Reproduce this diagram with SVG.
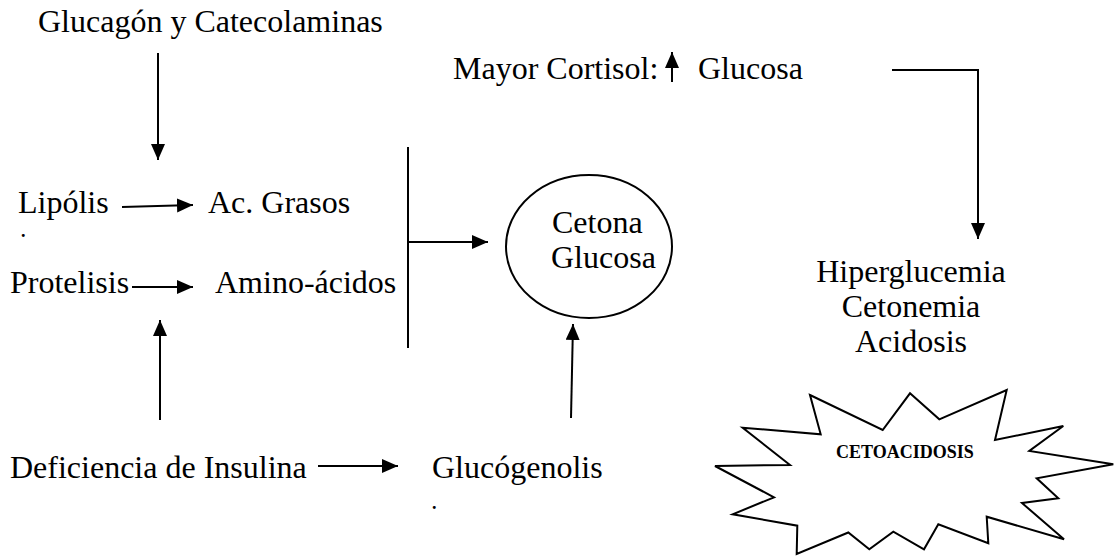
<svg xmlns="http://www.w3.org/2000/svg" width="1115" height="556" viewBox="0 0 1115 556">
<style>
  text { font-family: "Liberation Serif", "Times New Roman", serif; font-size: 32px; fill: #000; }
  .bold { font-weight: bold; font-size: 18px; }
  .dot { font-size: 18px; font-weight: bold; }
  .ln { stroke: #000; stroke-width: 2; fill: none; }
  .arr { stroke: #000; stroke-width: 2; fill: none; marker-end: url(#ah); }
</style>
<defs>
  <marker id="ah" markerUnits="userSpaceOnUse" markerWidth="18" markerHeight="16" refX="16" refY="7" orient="auto">
    <path d="M0,0 L16,7 L0,14 Z" fill="#000"/>
  </marker>
</defs>
<rect width="1115" height="556" fill="#fff"/>

<g id="connectors">
  <line class="arr" x1="158" y1="53" x2="158" y2="160"/>
  <line class="arr" x1="122" y1="207" x2="193" y2="205"/>
  <line class="arr" x1="132" y1="287" x2="193" y2="287"/>
  <line class="arr" x1="160" y1="420" x2="160" y2="320"/>
  <line class="ln" x1="408" y1="147" x2="408" y2="348"/>
  <line class="arr" x1="408" y1="242" x2="488" y2="242"/>
  <line class="arr" x1="571" y1="418" x2="573" y2="324"/>
  <line class="arr" x1="318" y1="466" x2="398" y2="466"/>
  <line class="arr" x1="672" y1="82" x2="672" y2="52"/>
  <polyline class="ln" points="892,70 978,70 978,224"/>
  <line class="arr" x1="978" y1="200" x2="978" y2="239"/>
</g>

<g id="glucagon"><text x="38" y="32">Glucagón y Catecolaminas</text></g>
<g id="lipolis"><text x="18" y="213">Lipólis</text><text class="dot" x="21" y="237">.</text></g>
<g id="acgrasos"><text x="208" y="213">Ac. Grasos</text></g>
<g id="protelisis"><text x="10" y="293">Protelisis</text></g>
<g id="aminoacidos"><text x="215" y="293">Amino-ácidos</text></g>
<g id="cetona-glucosa">
  <ellipse class="ln" cx="589" cy="246.5" rx="83" ry="71.5"/>
  <text x="552" y="233">Cetona</text>
  <text x="551" y="268">Glucosa</text>
</g>
<g id="deficiencia"><text x="10" y="478">Deficiencia de Insulina</text></g>
<g id="glucogenolis"><text x="432" y="478">Glucógenolis</text><text class="dot" x="432" y="509">.</text></g>
<g id="cortisol">
  <text x="453" y="79">Mayor Cortisol:</text>
  <text x="698" y="79">Glucosa</text>
</g>
<g id="hiperglucemia">
  <text x="911" y="282" text-anchor="middle">Hiperglucemia</text>
  <text x="911" y="317" text-anchor="middle">Cetonemia</text>
  <text x="911" y="352" text-anchor="middle">Acidosis</text>
</g>
<g id="cetoacidosis">
  <polygon class="ln" stroke-linejoin="miter" points="810,395 882.7,430 910,393.3 939.3,419.3 1006.7,390 995,440 1063.3,426 1029.3,451 1113.3,464.3 1036.7,478.3 1058.3,498.3 1022,503 1064,539.3 986.7,516.7 988.3,543.3 938.3,524.3 924,549.3 893.3,531.7 869.3,549.3 848.3,532.5 796.7,554 797.3,525.7 732.7,514.3 774,497.3 715,466 790,465 742.7,427.7 820.7,434.3"/>
  <text class="bold" x="836" y="458">CETOACIDOSIS</text>
</g>
</svg>
